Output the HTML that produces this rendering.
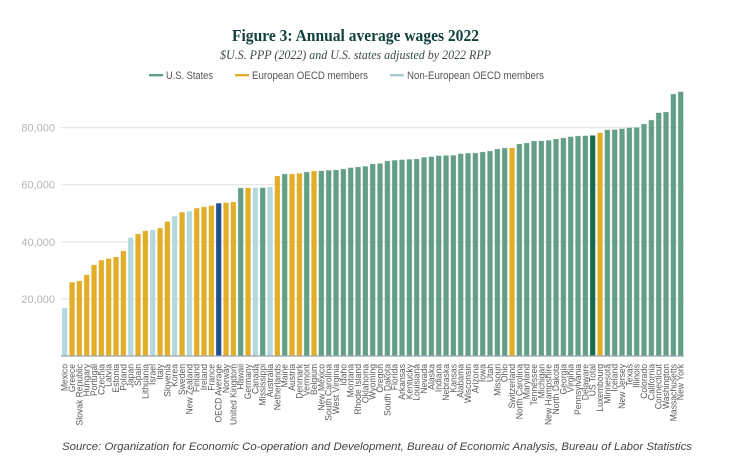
<!DOCTYPE html>
<html lang="en">
<head>
<meta charset="utf-8">
<title>Figure 3: Annual average wages 2022</title>
<style>
html,body{margin:0;padding:0;background:#fff;width:748px;height:469px;overflow:hidden}
svg{display:block}
text{font-family:"Liberation Sans",sans-serif}
.serif{font-family:"Liberation Serif",serif}
</style>
</head>
<body>
<svg id="chart" width="748" height="469" viewBox="0 0 748 469" xmlns="http://www.w3.org/2000/svg">
  <rect width="748" height="469" fill="#fff"/>
  <text class="serif" x="355.5" y="41" text-anchor="middle" font-size="17" font-weight="bold" fill="#12403f" textLength="247" lengthAdjust="spacingAndGlyphs">Figure 3: Annual average wages 2022</text>
  <text class="serif" x="355.5" y="59" text-anchor="middle" font-size="13" font-style="italic" fill="#3d4a4a" textLength="271" lengthAdjust="spacingAndGlyphs">$U.S. PPP (2022) and U.S. states adjusted by 2022 RPP</text>
  <g>
    <g>
      <rect x="149" y="74" width="14" height="2.4" fill="#629f85"/>
      <text x="166" y="79" font-size="11" fill="#555" textLength="47" lengthAdjust="spacingAndGlyphs">U.S. States</text>
    </g>
    <g>
      <rect x="235" y="74" width="14" height="2.4" fill="#e2ad27"/>
      <text x="252" y="79" font-size="11" fill="#555" textLength="116" lengthAdjust="spacingAndGlyphs">European OECD members</text>
    </g>
    <g>
      <rect x="390" y="74" width="14" height="2.4" fill="#a9c9d0"/>
      <text x="407" y="79" font-size="11" fill="#555" textLength="137" lengthAdjust="spacingAndGlyphs">Non-European OECD members</text>
    </g>
  </g>
  <g id="grid"></g>
  <g id="yticks"></g>
  <g id="bars"></g>
  <line x1="61" x2="684" y1="356" y2="356" stroke="#9aa5ad" stroke-width="1.3"/>
  <g id="xlabels"></g>
  <text x="62" y="450" font-size="11" font-style="italic" fill="#444" textLength="630" lengthAdjust="spacingAndGlyphs">Source: Organization for Economic Co-operation and Development, Bureau of Economic Analysis, Bureau of Labor Statistics</text>
</svg>
<script>
const categories = ["Mexico","Greece","Slovak Republic","Hungary","Portugal","Czechia","Latvia","Estonia","Poland","Japan","Spain","Lithuania","Israel","Italy","Slovenia","Korea","Sweden","New Zealand","Finland","Ireland","France","OECD Average","Norway","United Kingdom","Hawaii","Germany","Canada","Mississippi","Australia","Netherlands","Maine","Austria","Denmark","Vermont","Belgium","New Mexico","South Carolina","West Virginia","Idaho","Montana","Rhode Island","Oklahoma","Wyoming","Oregon","South Dakota","Florida","Arkansas","Kentucky","Louisiana","Nevada","Alaska","Indiana","Nebraska","Kansas","Alabama","Wisconsin","Arizona","Iowa","Utah","Missouri","Ohio","Switzerland","North Carolina","Maryland","Tennessee","Michigan","New Hampshire","North Dakota","Georgia","Virginia","Pennsylvania","Delaware","US Total","Luxembourg","Minnesota","Iceland","New Jersey","Texas","Illinois","Colorado","California","Connecticut","Washington","Massachusetts","New York"];
const wages = [16700,25800,26250,28350,31850,33500,34050,34650,36750,41400,42700,43750,44100,44700,47000,48900,50300,50650,51700,52150,52600,53450,53650,53900,58800,58800,58900,58900,59150,63000,63700,63700,63900,64400,64750,64800,65000,65100,65450,65900,66150,66400,67200,67400,68250,68500,68700,68850,68950,69550,69750,70100,70200,70250,70800,71000,71050,71400,71750,72450,72800,72850,74200,74550,75250,75300,75500,75950,76300,76750,77000,77100,77200,78150,79200,79250,79550,79900,80000,81200,82600,85150,85400,91700,92500];
const groups = ["non","eu","eu","eu","eu","eu","eu","eu","eu","non","eu","eu","non","eu","eu","non","eu","non","eu","eu","eu","oecd","eu","eu","us","eu","non","us","non","eu","us","eu","eu","us","eu","us","us","us","us","us","us","us","us","us","us","us","us","us","us","us","us","us","us","us","us","us","us","us","us","us","us","eu","us","us","us","us","us","us","us","us","us","us","total","eu","us","us","us","us","us","us","us","us","us","us","us"];
const yTicks = [20000,40000,60000,80000];

const groupColors = {us:"#629f85",eu:"#e2ad27",non:"#b4d8de",oecd:"#22508f",total:"#176b4c"};
const NS = "http://www.w3.org/2000/svg";
function yScale(v){ return 356 - v * (228.4 / 80000); }
function xScale(i){ return 64.7 + i * (616 / (categories.length - 1)); }

const gridG = document.getElementById("grid");
const tickG = document.getElementById("yticks");
yTicks.forEach(function(t){
  const line = document.createElementNS(NS,"line");
  
  
  line.setAttribute("x1",61);
  line.setAttribute("x2",684);
  line.setAttribute("y1",yScale(t));
  line.setAttribute("y2",yScale(t));
  line.setAttribute("stroke","#e6e6e6");
  line.setAttribute("stroke-width","1.2");
  gridG.appendChild(line);
  const label = document.createElementNS(NS,"text");
  
  
  label.setAttribute("x",55);
  label.setAttribute("y",yScale(t)+4);
  label.setAttribute("text-anchor","end");
  label.setAttribute("font-size","11");
  label.setAttribute("fill","#b5b5b5");
  label.textContent = t.toLocaleString("en-US");
  tickG.appendChild(label);
});

const barG = document.getElementById("bars");
const labelG = document.getElementById("xlabels");
categories.forEach(function(name,i){
  const top = yScale(wages[i]);
  const rect = document.createElementNS(NS,"rect");
  
  
  rect.setAttribute("x",xScale(i)-2.5);
  rect.setAttribute("y",top);
  rect.setAttribute("width",5);
  rect.setAttribute("height",356-top);
  rect.setAttribute("fill",groupColors[groups[i]]);
  rect.setAttribute("stroke",groupColors[groups[i]]);
  rect.setAttribute("stroke-opacity","0.3");
  rect.setAttribute("stroke-width","0.7");
  barG.appendChild(rect);
  const label = document.createElementNS(NS,"text");
  
  
  label.setAttribute("transform","translate("+(xScale(i)+3)+",364) rotate(-90) scale(0.895,1)");
  label.setAttribute("text-anchor","end");
  label.setAttribute("font-size","9.6");
  label.setAttribute("fill","#5a5a5a");
  label.textContent = name;
  labelG.appendChild(label);
});
</script>
</body>
</html>
